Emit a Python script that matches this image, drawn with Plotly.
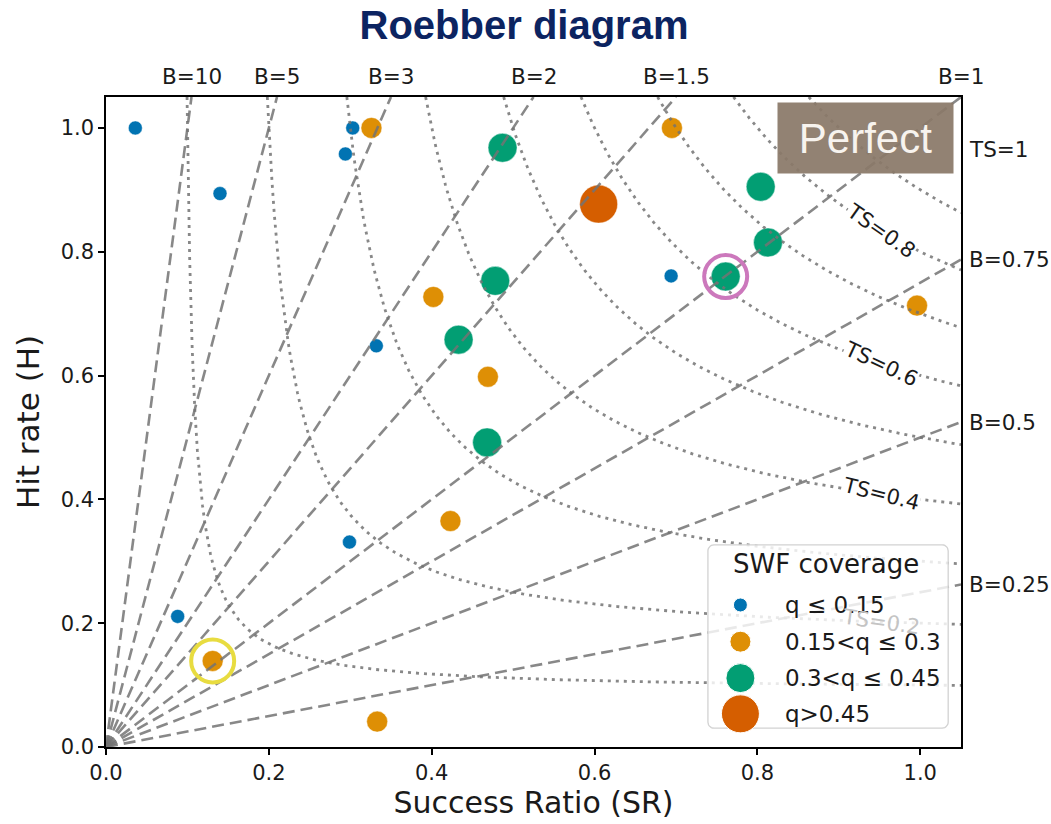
import numpy as np
import plotly.graph_objects as go

# ---------------- data ----------------
blue_sr = [0.036, 0.140, 0.303, 0.294, 0.332, 0.299, 0.088, 0.694]
blue_h = [1.000, 0.894, 1.000, 0.958, 0.648, 0.331, 0.211, 0.761]
orange_sr = [0.326, 0.695, 0.402, 0.469, 0.423, 0.996, 0.131, 0.333]
orange_h = [1.000, 1.000, 0.727, 0.598, 0.365, 0.713, 0.139, 0.041]
green_sr = [0.487, 0.804, 0.813, 0.761, 0.478, 0.433, 0.468]
green_h = [0.968, 0.905, 0.815, 0.760, 0.753, 0.658, 0.492]
red_sr = [0.605]
red_h = [0.877]
pink_ring_sr = [0.761]
pink_ring_h = [0.760]
yellow_ring_sr = [0.131]
yellow_ring_h = [0.139]

bias_levels = [10, 5, 3, 2, 1.5, 1, 0.75, 0.5, 0.25]
bias_labels = ["B=10", "B=5", "B=3", "B=2", "B=1.5", "B=1", "B=0.75", "B=0.5", "B=0.25"]
ts_levels = [0.1, 0.2, 0.3, 0.4, 0.5, 0.6, 0.7, 0.8, 0.9]
ts_label_levels = [0.2, 0.4, 0.6, 0.8]
ts_label_angles = [8, 14, 25, 35]
ts_label_sr = 0.952

legend_names = ["q \u2264 0.15", "0.15<q \u2264 0.3", "0.3<q \u2264 0.45", "q>0.45"]
legend_title = "SWF coverage"
tick_vals = [0.0, 0.2, 0.4, 0.6, 0.8, 1.0]
tick_text = ["0.0", "0.2", "0.4", "0.6", "0.8", "1.0"]

AX_MAX = 1.05
C_BLUE, C_ORANGE, C_GREEN, C_RED = "#0173B2", "#DE8F05", "#029E73", "#D55E00"
LINE_C = "rgba(115,115,115,0.85)"
FONT = "DejaVu Sans"
TXT = "#1a1a1a"

fig = go.Figure()

# ---------------- points ----------------
for sr, h, c, s in [(blue_sr, blue_h, C_BLUE, 14), (orange_sr, orange_h, C_ORANGE, 21),
                    (green_sr, green_h, C_GREEN, 29), (red_sr, red_h, C_RED, 38)]:
    fig.add_trace(go.Scatter(x=sr, y=h, mode="markers", showlegend=False, hoverinfo="skip",
                             marker=dict(color=c, size=s, opacity=1,
                                         line=dict(color="rgba(255,255,255,0.6)", width=0.8))))

# ---------------- bias lines ----------------
for b in bias_levels:
    xe = min(AX_MAX, AX_MAX / b)
    fig.add_trace(go.Scatter(x=[0, xe], y=[0, b * xe], mode="lines", showlegend=False, hoverinfo="skip",
                             line=dict(color=LINE_C, width=2.6, dash="12px,6px")))

# ---------------- CSI / TS contours ----------------
for t in ts_levels:
    sr0 = 1.0 / (1.0 / t + 1.0 - 1.0 / AX_MAX)
    sr = np.linspace(sr0, AX_MAX, 300)
    h = 1.0 / (1.0 / t + 1.0 - 1.0 / sr)
    fig.add_trace(go.Scatter(x=sr, y=h, mode="lines", showlegend=False, hoverinfo="skip",
                             line=dict(color=LINE_C, width=2.8, dash="3px,5px")))

# ---------------- highlight rings ----------------
fig.add_trace(go.Scatter(x=pink_ring_sr, y=pink_ring_h, mode="markers", showlegend=False, hoverinfo="skip",
                         marker=dict(symbol="circle-open", size=43, color="#CC78BC", opacity=1,
                                     line=dict(width=4, color="#CC78BC"))))
fig.add_trace(go.Scatter(x=yellow_ring_sr, y=yellow_ring_h, mode="markers", showlegend=False, hoverinfo="skip",
                         marker=dict(symbol="circle-open", size=43, color="#E8DC40", opacity=1,
                                     line=dict(width=4, color="#E8DC40"))))

# ---------------- custom legend (drawn on an overlay 0..1 axis) ----------------
def rounded_rect(x0, x1, y0, y1, rx, ry, n=8):
    xs, ys = [], []
    corners = [(x1 - rx, y1 - ry, 0), (x0 + rx, y1 - ry, 90), (x0 + rx, y0 + ry, 180), (x1 - rx, y0 + ry, 270)]
    for cx, cy, a0 in corners:
        for a in np.linspace(a0, a0 + 90, n):
            xs.append(cx + rx * np.cos(np.radians(a)))
            ys.append(cy + ry * np.sin(np.radians(a)))
    xs.append(xs[0]); ys.append(ys[0])
    return xs, ys

bx, by = rounded_rect(0.704, 0.985, 0.029, 0.311, 6 / 855, 6 / 650)
fig.add_trace(go.Scatter(x=bx, y=by, xaxis="x2", yaxis="y2", mode="lines", fill="toself",
                         fillcolor="rgba(255,255,255,0.82)", line=dict(color="#d2d2d2", width=1.3),
                         showlegend=False, hoverinfo="skip"))
leg_y = [0.2185, 0.162, 0.106, 0.051]
fig.add_trace(go.Scatter(x=[0.742] * 4, y=leg_y, xaxis="x2", yaxis="y2", mode="markers",
                         marker=dict(color=[C_BLUE, C_ORANGE, C_GREEN, C_RED], size=[14, 21, 29, 38], opacity=1),
                         showlegend=False, hoverinfo="skip"))

ann = []
ann.append(dict(xref="paper", yref="paper", x=0.731, y=0.281, text=legend_title, showarrow=False,
                xanchor="left", yanchor="middle", font=dict(family=FONT, size=26, color=TXT)))
for name, yy in zip(legend_names, leg_y):
    ann.append(dict(xref="paper", yref="paper", x=0.792, y=yy, text=name, showarrow=False,
                    xanchor="left", yanchor="middle", font=dict(family=FONT, size=23, color=TXT)))

# bias labels
for b, lab in zip(bias_levels, bias_labels):
    if b >= 1:
        ann.append(dict(xref="x", yref="paper", x=AX_MAX / b, y=1.0, yshift=6, text=lab, showarrow=False,
                        xanchor="center", yanchor="bottom", font=dict(family=FONT, size=21.5, color=TXT)))
    else:
        ann.append(dict(xref="paper", yref="y", x=1.0, xshift=6, y=AX_MAX * b, text=lab, showarrow=False,
                        xanchor="left", yanchor="middle", font=dict(family=FONT, size=21.5, color=TXT)))
ann.append(dict(xref="paper", yref="y", x=1.0, xshift=6, y=0.966, text="TS=1", showarrow=False,
                xanchor="left", yanchor="middle", font=dict(family=FONT, size=21.5, color=TXT)))

# TS labels
for t, ang in zip(ts_label_levels, ts_label_angles):
    hy = 1.0 / (1.0 / t + 1.0 - 1.0 / ts_label_sr)
    faded = t == 0.2
    ann.append(dict(xref="x", yref="y", x=ts_label_sr, y=hy, text="TS=%g" % t, showarrow=False,
                    textangle=ang, xanchor="center", yanchor="middle",
                    bgcolor="rgba(255,255,255,0)" if faded else "white", borderpad=0,
                    font=dict(family=FONT, size=21, color="#c4c4c4" if faded else TXT)))

# Perfect box
ann.append(dict(xref="x", yref="y", x=0.933, y=0.984, text="Perfect", showarrow=False,
                width=175, height=70, borderpad=0, bgcolor="rgba(138,121,104,0.93)",
                font=dict(family="Liberation Sans", size=42, color="#f7f3ee")))

fig.update_layout(
    width=1051, height=824,
    margin=dict(l=106, r=90, t=97, b=77),
    paper_bgcolor="white", plot_bgcolor="white",
    title=dict(text="<b>Roebber diagram</b>", x=0.4986, xanchor="center", y=0.970, yanchor="middle",
               font=dict(family="Liberation Sans", size=40, color="#0C2461")),
    xaxis=dict(range=[0, AX_MAX], tickvals=tick_vals, ticktext=tick_text, showgrid=False, zeroline=False,
               showline=True, linecolor="black", linewidth=1.5, mirror=True, ticks="outside",
               ticklen=6, tickwidth=1.5, tickcolor="black",
               tickfont=dict(family=FONT, size=21, color=TXT),
               title=dict(text="Success Ratio (SR)", standoff=7, font=dict(family=FONT, size=30, color=TXT))),
    yaxis=dict(range=[0, AX_MAX], tickvals=tick_vals, ticktext=tick_text, showgrid=False, zeroline=False,
               showline=True, linecolor="black", linewidth=1.5, mirror=True, ticks="outside",
               ticklen=6, tickwidth=1.5, tickcolor="black",
               tickfont=dict(family=FONT, size=21, color=TXT),
               title=dict(text="Hit rate (H)", standoff=12, font=dict(family=FONT, size=31, color=TXT))),
    xaxis2=dict(overlaying="x", anchor="y2", range=[0, 1], visible=False, fixedrange=True),
    yaxis2=dict(overlaying="y", anchor="x2", range=[0, 1], visible=False, fixedrange=True),
    annotations=ann,
    showlegend=False,
)

fig.write_html("out.html", config={"displayModeBar": False},
               post_script="document.body.style.margin='0px';")
